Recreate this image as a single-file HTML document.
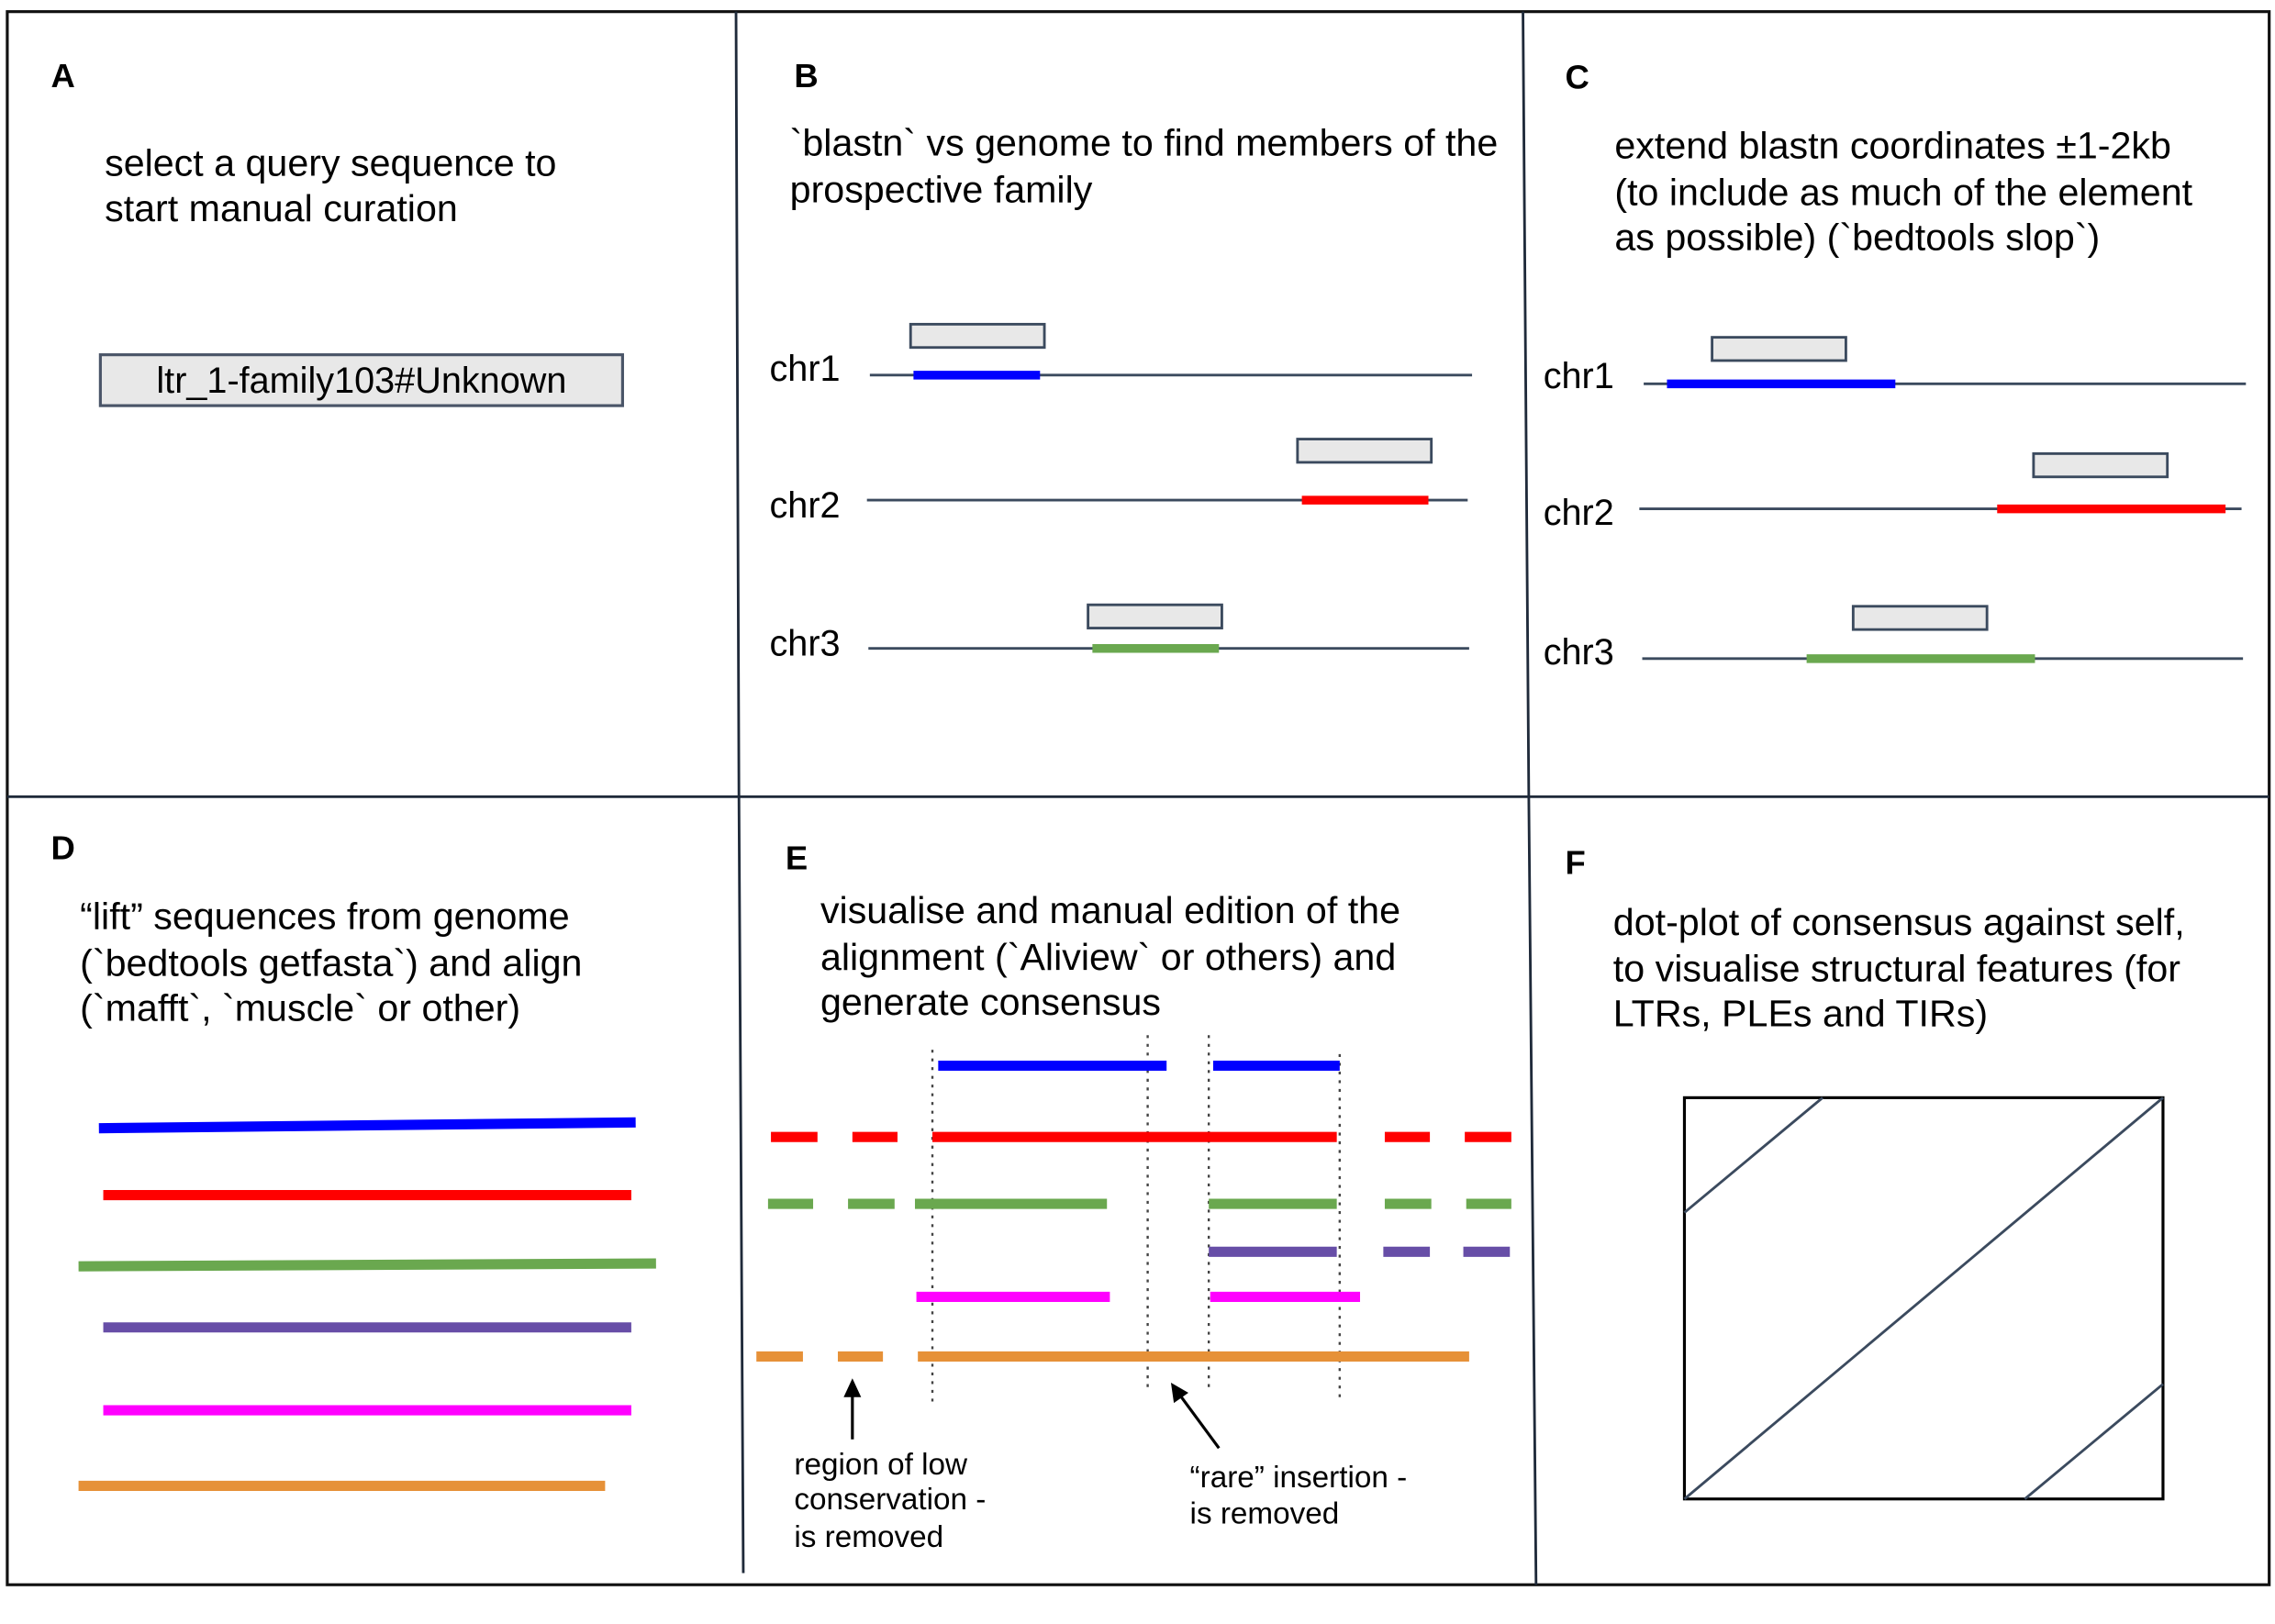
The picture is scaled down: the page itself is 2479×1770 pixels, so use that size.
<!DOCTYPE html>
<html><head><meta charset="utf-8">
<style>
html,body{margin:0;padding:0;background:#fff;}
svg{display:block;}
text{font-family:"Liberation Sans",Arial,sans-serif;fill:#000;}
</style></head>
<body>
<svg id="fig" width="2479" height="1770" viewBox="0 0 1564 1117" preserveAspectRatio="none" xmlns="http://www.w3.org/2000/svg">
<g stroke="#1f2a3a" fill="none">
<rect x="5" y="8" width="1555" height="1082" stroke="#111" stroke-width="2"/>
<line x1="5" y1="548" x2="1560" y2="548" stroke-width="1.8"/>
<polyline points="506,8 508,548 511,1082" stroke-width="1.8"/>
<polyline points="1047,8 1051,548 1056,1090" stroke-width="1.8"/>
</g>
<g font-weight="bold" font-size="23">
<text x="35" y="60">A</text><text x="546" y="60">B</text><text x="1076" y="61">C</text>
<text x="35" y="591">D</text><text x="540" y="598">E</text><text x="1076" y="601">F</text>
</g>
<g font-size="26">
<text x="72" y="121">select a query sequence to</text>
<text x="72" y="152">start manual curation</text>
<text x="543" y="107">`blastn` vs genome to find members of the</text>
<text x="543" y="139">prospective family</text>
<text x="1110" y="109">extend blastn coordinates ±1-2kb</text>
<text x="1110" y="141">(to include as much of the element</text>
<text x="1110" y="172">as possible) (`bedtools slop`)</text>
<text x="55" y="639">“lift” sequences from genome</text>
<text x="55" y="671">(`bedtools getfasta`) and align</text>
<text x="55" y="702">(`mafft`, `muscle` or other)</text>
<text x="564" y="635">visualise and manual edition of the</text>
<text x="564" y="667">alignment (`Aliview` or others)  and</text>
<text x="564" y="698">generate consensus</text>
<text x="1109" y="643">dot-plot of consensus against self,</text>
<text x="1109" y="675">to visualise structural features (for</text>
<text x="1109" y="706">LTRs, PLEs and TIRs)</text>
</g>
<g>
<rect x="69" y="244" width="359" height="35" fill="#e8e8e8" stroke="#4a5568" stroke-width="2"/>
<text x="248.5" y="270" font-size="25" text-anchor="middle">ltr_1-family103#Unknown</text>
</g>
<g id="tracks"></g>
<g id="align"></g>
<g font-size="21">
<line x1="586" y1="990" x2="586" y2="956" stroke="#000" stroke-width="2"/>
<polygon points="586,948 580,961 592,961" fill="#000"/>
<line x1="838" y1="996" x2="810" y2="958" stroke="#000" stroke-width="2"/>
<polygon points="805,951 807,965 817,958" fill="#000"/>
<text x="546" y="1014">region of low</text>
<text x="546" y="1038">conservation -</text>
<text x="546" y="1064">is removed</text>
<text x="818" y="1023">“rare” insertion -</text>
<text x="818" y="1048">is removed</text>
</g>
<g id="dot">
<rect x="1158" y="755" width="329" height="276" fill="none" stroke="#000" stroke-width="2"/>
</g>
<script>
const NS='http://www.w3.org/2000/svg';
const chrNames=['chr1','chr2','chr3'];
const chrColors=['#0000ff','#ff0000','#6aa84f'];
// panel B: [labelBaseline, lineY, lineStart, lineEnd, hitStart, hitEnd, boxStart, boxTop]
const trackB=[[262,258,598,1012,628,715,626,223],[356,344,596,1009,895,982,892,302],[451,446,597,1010,751,838,748,416]];
// panel C
const trackC=[[267,264,1130,1544,1146,1303,1177,232],[361,350,1127,1541,1373,1530,1398,312],[457,453,1129,1542,1242,1399,1274,417]];
const labelX={B:529,C:1061};
function mk(tag,attrs,parent){const e=document.createElementNS(NS,tag);for(const k in attrs)e.setAttribute(k,attrs[k]);parent.appendChild(e);return e;}
const tg=document.getElementById('tracks');
[['B',trackB],['C',trackC]].forEach(([p,arr])=>{
  arr.forEach((t,i)=>{
    const lab=mk('text',{x:labelX[p],y:t[0],'font-size':25},tg);lab.textContent=chrNames[i];
    
    
    const ln=mk('line',{x1:t[2],y1:t[1],x2:t[3],y2:t[1],stroke:'#3b4a5e','stroke-width':1.8},tg);
    
    
    const hit=mk('line',{x1:t[4],y1:t[1],x2:t[5],y2:t[1],stroke:chrColors[i],'stroke-width':6},tg);
    
    
    const bx=mk('rect',{x:t[6],y:t[7],width:92,height:16,fill:'#e8e8e8',stroke:'#3b4a5e','stroke-width':1.8},tg);
    
    
  });
});
const ag=document.getElementById('align');
// panel D lines: [x1,y1,x2,y2,color]
const liftLines=[[68,776,437,772,'#0000ff'],[71,822,434,822,'#ff0000'],[54,871,451,869,'#6aa84f'],[71,913,434,913,'#674ea7'],[71,970,434,970,'#ff00ff'],[54,1022,416,1022,'#e69138']];
liftLines.forEach(l=>{const e=mk('line',{x1:l[0],y1:l[1],x2:l[2],y2:l[3],stroke:l[4],'stroke-width':7},ag);

});
// panel E dotted columns: [x, top, bottom]
const cols=[[641,722,965],[789,712,955],[831,712,955],[921,725,965]];
cols.forEach(c=>{const e=mk('line',{x1:c[0],y1:c[1],x2:c[0],y2:c[2],stroke:'#444','stroke-width':1.5,'stroke-dasharray':'2,4'},ag);

});
// panel E segments per row: [y, color, [[start,end],...]]
const rows=[[733,'#0000ff',[[645,802],[834,921]]],
[782,'#ff0000',[[530,562],[586,617],[641,919],[952,983],[1007,1039]]],
[828,'#6aa84f',[[528,559],[583,615],[629,761],[831,919],[952,984],[1008,1039]]],
[861,'#674ea7',[[831,919],[951,983],[1006,1038]]],
[892,'#ff00ff',[[630,763],[832,935]]],
[933,'#e69138',[[520,552],[576,607],[631,1010]]]];
rows.forEach(r=>r[2].forEach(s=>{const e=mk('line',{x1:s[0],y1:r[0],x2:s[1],y2:r[0],stroke:r[1],'stroke-width':7},ag);

}));
// dot plot diagonals
const diags=[[1158,1031,1487,755],[1158,834,1253,755],[1392,1031,1487,952]];
const dg=document.getElementById('dot');
diags.forEach(d=>{const e=mk('line',{x1:d[0],y1:d[1],x2:d[2],y2:d[3],stroke:'#3b4a5e','stroke-width':1.8},dg);

});
</script>
</svg>
</body></html>
